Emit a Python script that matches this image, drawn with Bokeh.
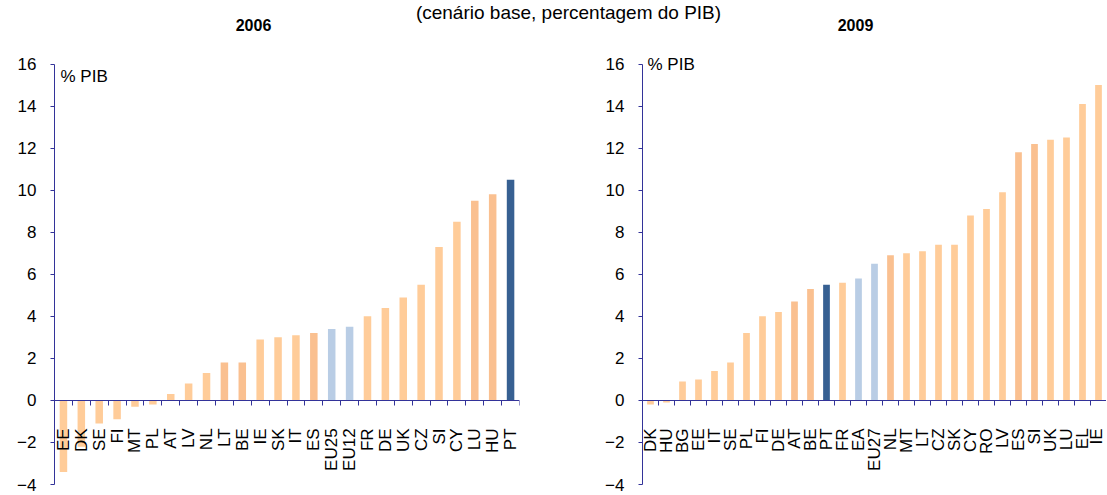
import numpy as np
from bokeh.plotting import figure
from bokeh.layouts import column, row
from bokeh.models import Range1d, FixedTicker, Label, ColumnDataSource
from bokeh.core.properties import value
from bokeh.embed import file_html
from bokeh.resources import INLINE

# ---------------- data ----------------
SUBTITLE = "(cenário base, percentagem do PIB)"
TITLE_2006 = "2006"
TITLE_2009 = "2009"
UNIT_LABEL = "% PIB"

cats_2006 = ["EE", "DK", "SE", "FI", "MT", "PL", "AT", "LV", "NL", "LT", "BE", "IE", "SK",
             "IT", "ES", "EU25", "EU12", "FR", "DE", "UK", "CZ", "SI", "CY", "LU", "HU", "PT"]
vals_2006 = [-3.4, -2.2, -1.1, -0.9, -0.3, -0.2, 0.3, 0.8, 1.3, 1.8, 1.8, 2.9, 3.0,
             3.1, 3.2, 3.4, 3.5, 4.0, 4.4, 4.9, 5.5, 7.3, 8.5, 9.5, 9.8, 10.5]
dark_2006 = ["LT", "BE", "ES", "LU", "HU"]
agg_2006 = ["EU25", "EU12"]

cats_2009 = ["DK", "HU", "BG", "EE", "IT", "SE", "PL", "FI", "DE", "AT", "BE", "PT", "FR",
             "EA", "EU27", "NL", "MT", "LT", "CZ", "SK", "CY", "RO", "LV", "ES", "SI", "UK",
             "LU", "EL", "IE"]
vals_2009 = [-0.2, -0.1, 0.9, 1.0, 1.4, 1.8, 3.2, 4.0, 4.2, 4.7, 5.3, 5.5, 5.6,
             5.8, 6.5, 6.9, 7.0, 7.1, 7.4, 7.4, 8.8, 9.1, 9.9, 11.8, 12.2, 12.4,
             12.5, 14.1, 15.0]
dark_2009 = ["AT", "BE", "NL", "ES", "SI"]
agg_2009 = ["EA", "EU27"]

highlight = ["PT"]

y_ticks = [-4, -2, 0, 2, 4, 6, 8, 10, 12, 14, 16]

# ---------------- styles ----------------
C_LIGHT = "#FFCC99"
C_DARK = "#FAC090"
C_AGG = "#B9CDE5"
C_PT = "#376092"
AXIS_C = "#333399"
FONT = "Liberation Sans"
PANEL_H = 458


def colour_for(c, dark, agg):
    if c in highlight:
        return C_PT
    if c in agg:
        return C_AGG
    if c in dark:
        return C_DARK
    return C_LIGHT


def panel(cats, vals, dark, agg, width, bl, br, unit_y, unit_dx):
    n = len(cats)
    xs = list(range(n))
    src = ColumnDataSource(dict(x=xs, v=vals, c=[colour_for(c, dark, agg) for c in cats]))
    p = figure(width=width, height=PANEL_H, x_range=Range1d(-0.5, n - 0.5),
               y_range=Range1d(y_ticks[0], y_ticks[-1] + 0.5),
               output_backend="svg", toolbar_location=None,
               min_border_left=bl, min_border_right=br,
               min_border_top=17, min_border_bottom=10)
    p.outline_line_color = None
    p.xgrid.visible = False
    p.ygrid.visible = False
    p.background_fill_color = "white"
    p.border_fill_color = "white"

    p.vbar(x="x", top="v", bottom=0, width=0.42, fill_color="c", line_color=None, source=src)

    # x axis at zero with ticks between categories
    xa = p.xaxis[0]
    xa.fixed_location = 0
    xa.ticker = FixedTicker(ticks=xs, minor_ticks=[i - 0.5 for i in range(n + 1)])
    xa.major_label_overrides = {i: c for i, c in enumerate(cats)}
    xa.major_label_orientation = np.pi / 2
    xa.major_tick_out = 0
    xa.major_tick_in = 0
    xa.minor_tick_out = 5
    xa.minor_tick_in = 0
    xa.minor_tick_line_color = AXIS_C
    xa.axis_line_color = AXIS_C
    xa.major_label_standoff = 23
    xa.major_label_text_font = FONT
    xa.major_label_text_font_size = "17px"
    xa.major_label_text_color = "black"

    ya = p.yaxis[0]
    ya.bounds = (y_ticks[0], y_ticks[-1])
    ya.ticker = FixedTicker(ticks=y_ticks, minor_ticks=[])
    ya.axis_line_color = AXIS_C
    ya.major_tick_line_color = AXIS_C
    ya.major_tick_out = 4
    ya.major_tick_in = 0
    ya.minor_tick_out = 0
    ya.minor_tick_in = 0
    ya.major_label_standoff = 14
    ya.major_label_text_font = FONT
    ya.major_label_text_font_size = "17px"
    ya.major_label_text_color = "black"

    p.add_layout(Label(x=-0.5, y=unit_y, x_offset=unit_dx, text=UNIT_LABEL, text_font=FONT,
                       text_font_size="17px", text_baseline="middle", text_color="black"))
    return p


p1 = panel(cats_2006, vals_2006, dark_2006, agg_2006, 560, 54, 41, 15.41, 6)
p2 = panel(cats_2009, vals_2009, dark_2009, agg_2009, 546, 82, 0, 15.98, 5)

top = figure(width=1106, height=36, x_range=Range1d(0, 1106), y_range=Range1d(36, 0),
             x_axis_location=None, y_axis_location=None, output_backend="svg",
             toolbar_location=None, min_border=0)
top.outline_line_color = None
top.xgrid.visible = False
top.ygrid.visible = False
top.text(x=[568], y=[1], text=[SUBTITLE], text_font=value(FONT), text_font_size="19px",
         text_align="center", text_baseline="top", text_color="black")
top.text(x=[253, 855], y=[24, 24], text=[TITLE_2006, TITLE_2009], text_font=value(FONT),
         text_font_size="16px", text_font_style="bold", text_align="center",
         text_baseline="middle", text_color="black")

layout = column(top, row(p1, p2))
open("out.html", "w").write(file_html(layout, INLINE))
